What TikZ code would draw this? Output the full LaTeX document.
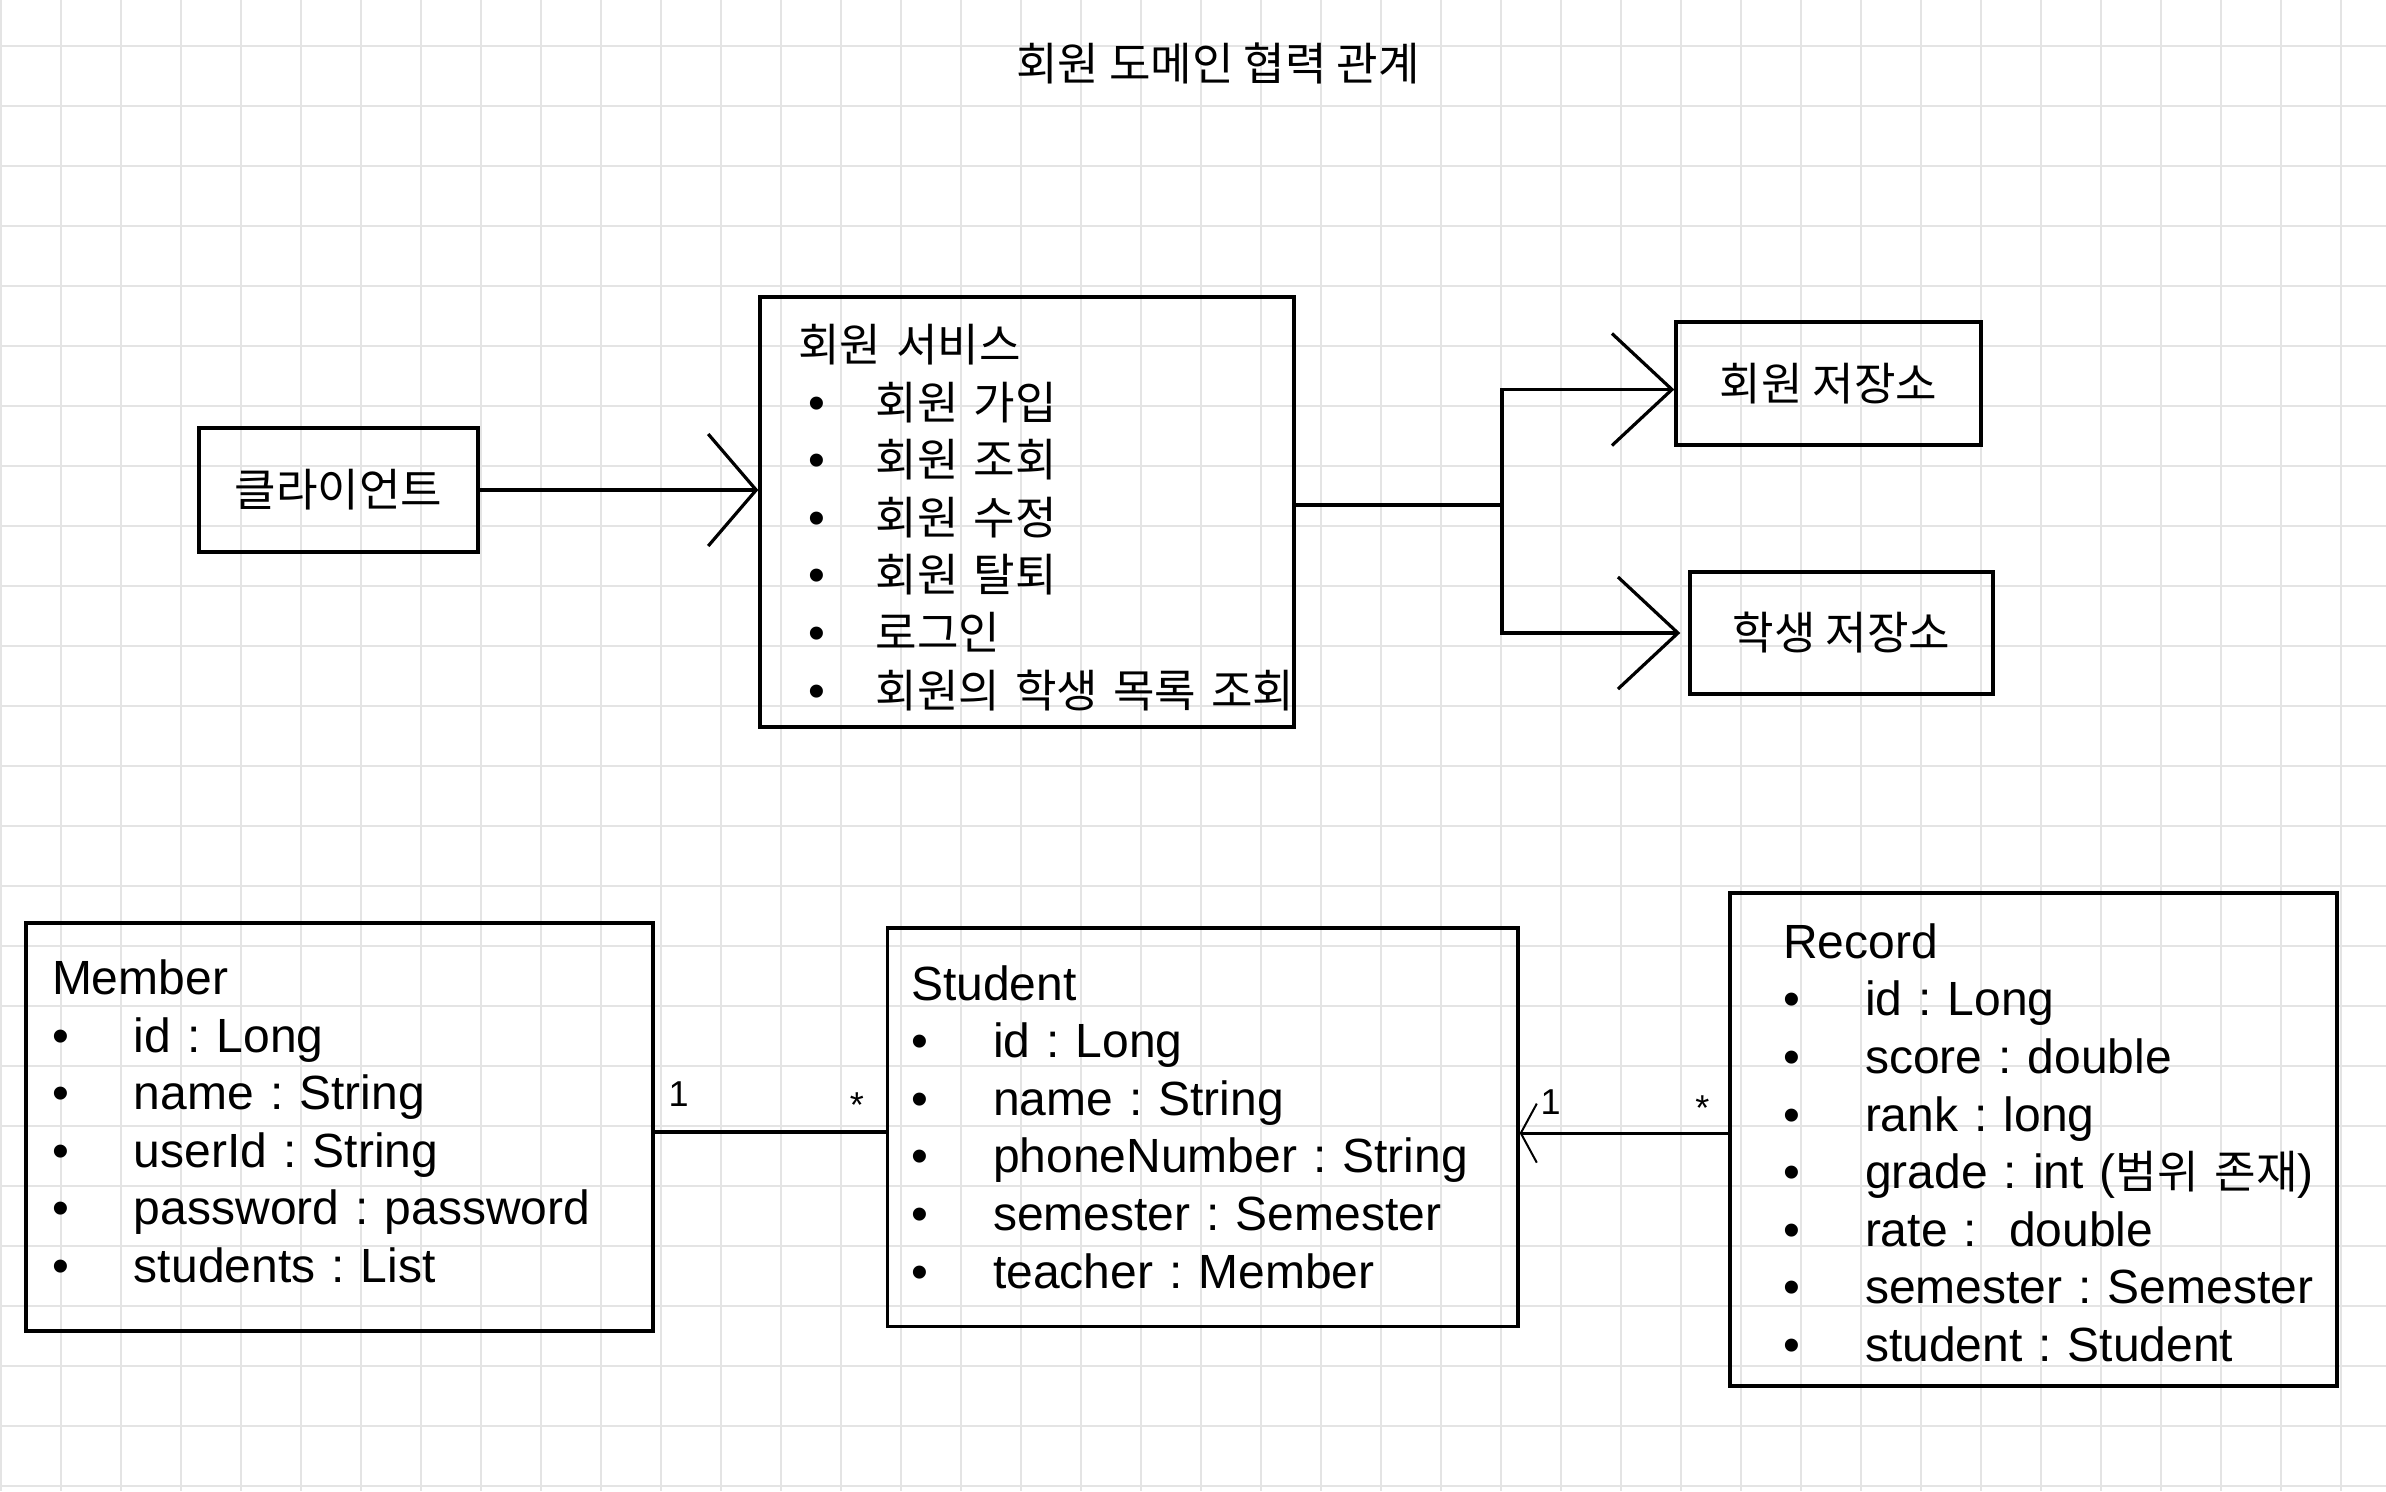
\documentclass[tikz,border=0pt]{standalone}
\usepackage{fontspec}
\setmainfont{Liberation Sans}
\newfontfamily\kr[Scale=0.94]{Noto Sans CJK KR}
\usetikzlibrary{arrows.meta}
\definecolor{gridgray}{HTML}{E4E4E4}
\frenchspacing
\newcommand{\itm}[1]{\makebox[20.5pt][l]{\normalfont\textbullet}\mbox{#1}}
\newcommand{\svcitm}[1]{\makebox[19.4pt][l]{\hspace{2.7pt}\normalfont\textbullet}\mbox{#1}}

\begin{document}
\begin{tikzpicture}[%
      x=0.25pt, y=-0.25pt,
      gridline/.style={color=gridgray, line width=0.6pt},
      krtext/.style={font=\fontsize{12}{14.4}\selectfont\kr},
      box/.style={draw, line width=0.85pt, inner sep=0pt},
      classbox/.style={draw, line width=0.85pt, align=left, inner ysep=0pt,
        font=\fontsize{12}{14.4}\selectfont},
      link/.style={line width=0.8pt},
      openarrow/.style={link, -{Straight Barb[length=12pt, width=28pt]}},
      repoarrow/.style={link, -{Straight Barb[length=15pt, width=28pt]}},
      smallarrow/.style={link, -{Straight Barb[length=4pt, width=14.75pt, line width=0.5pt]}},
      lbl/.style={font=\fontsize{9}{11}\selectfont, inner sep=0pt},
      ]
      \useasboundingbox (0,0) rectangle (2386,1491);
      \fill[white] (0,0) rectangle (2386,1491);
      \foreach \gx in {1,61,...,2341} \draw[gridline] (\gx,0) -- (\gx,1491);
      \foreach \gy in {46,106,...,1486} \draw[gridline] (0,\gy) -- (2386,\gy);

      \node[krtext] (title) at (1218,63) {회원 도메인 협력 관계};

      \node[box, krtext, minimum width=69.75pt, minimum height=31pt] (client) at (338.5,490) {클라이언트};
      \node[classbox, krtext, text width=114.5pt, inner xsep=9.5pt, minimum height=107.5pt] (service) at (1027,512)
        {\rule{0pt}{12pt}회원 서비스\\\svcitm{회원 가입}\\\svcitm{회원 조회}\\\svcitm{회원 수정}\\\svcitm{회원 탈퇴}\\\svcitm{로그인}\\\svcitm{회원의 학생 목록 조회}};
      \node[box, krtext, minimum width=76.25pt, minimum height=30.75pt] (memrepo) at (1828.5,383.5) {회원 저장소};
      \node[box, krtext, minimum width=75.75pt, minimum height=30.5pt] (strepo) at (1841.5,633) {학생 저장소};

      \node[classbox, text width=143.75pt, inner xsep=6.5pt, minimum height=102pt] (member) at (339.5,1127)
        {Member\\\itm{id : Long}\\\itm{name : String}\\\itm{userId : String}\\\itm{password : password}\\\itm{students : List}\rule[-3pt]{0pt}{0pt}};
      \node[classbox, text width=145.8pt, inner xsep=5.9pt, minimum height=99.6pt] (student) at (1202.75,1127)
        {Student\\\itm{id : Long}\\\itm{name : String}\\\itm{phoneNumber : String}\\\itm{semester : Semester}\\\itm{teacher : Member}};
      \node[classbox, text width=125.25pt, inner xsep=13.25pt, minimum height=123.25pt] (record) at (2033.5,1139.5)
        {\rule{0pt}{10.3pt}Record\\\itm{id : Long}\\\itm{score : double}\\\itm{rank : long}\\\itm{grade : int ({\kr 범위 존재})}\\\itm{rate :\ \ double}\\\itm{semester : Semester}\\\itm{student : Student}};

      \draw[openarrow] (client.east) -- (client.east -| service.west);
      \coordinate (fork) at (1502,505);
      \draw[link] (fork -| service.east) -- (fork);
      \draw[repoarrow] (fork) |- ([yshift=-1.5pt]memrepo.west);
      \draw[repoarrow, shorten >=2pt] (fork) |- (strepo.west);

      \draw[link] ([yshift=-1.25pt]member.east) -- ([yshift=-1.25pt]member.east -| student.west)
        node[lbl, pos=0, anchor=base, xshift=6pt, yshift=6.5pt] {1}
        node[lbl, pos=1, anchor=base, xshift=-7.25pt, yshift=3.75pt] {*};
      \draw[smallarrow] ([yshift=1.6pt]record.west) -- ([yshift=1.6pt]record.west -| student.east)
        node[lbl, pos=0, anchor=base, xshift=-6.5pt, yshift=3.1pt] {*}
        node[lbl, pos=1, anchor=base, xshift=7.75pt, yshift=4.75pt] {1};
\end{tikzpicture}
\end{document}
